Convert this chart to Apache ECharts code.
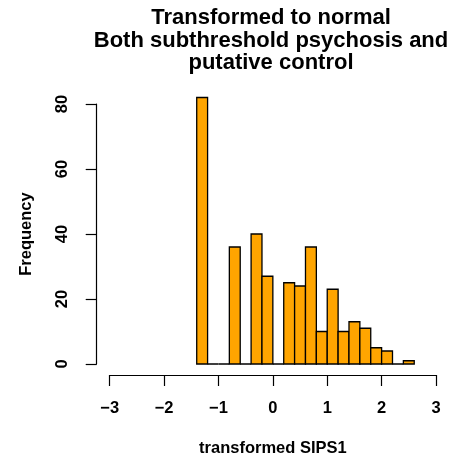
<!DOCTYPE html>
<html>
<head>
<meta charset="utf-8">
<script src="https://cdn.jsdelivr.net/npm/echarts@6/dist/echarts.min.js"></script>
<style>html,body{margin:0;padding:0;background:#fff;}#c{width:453px;height:463px;}</style>
</head>
<body>
<div id="c"></div>
<script>
// Histogram data (bin left edges, bin width 0.2)
var binStarts = [-1.4, -1.2, -1.0, -0.8, -0.6, -0.4, -0.2, 0.0, 0.2, 0.4, 0.6, 0.8, 1.0, 1.2, 1.4, 1.6, 1.8, 2.0, 2.2, 2.4];
var counts    = [82, 0, 0, 36, 0, 40, 27, 0, 25, 24, 36, 10, 23, 10, 13, 11, 5, 4, 0, 1];
var binWidth = 0.2;
var xTicks = [-3, -2, -1, 0, 1, 2, 3];
var yTicks = [0, 20, 40, 60, 80];
var titleLines = ['Transformed to normal', 'Both subthreshold psychosis and', 'putative control'];
var xLabel = 'transformed SIPS1';
var yLabel = 'Frequency';

var data = binStarts.map(function (s, i) { return [s, +(s + binWidth).toFixed(2), counts[i]]; });
var FONT = "'Liberation Sans', Arial, Helvetica, sans-serif";

var chart = echarts.init(document.getElementById('c'), null, {renderer: 'canvas'});
chart.setOption({
  animation: false,
  backgroundColor: '#ffffff',
  title: {
    text: titleLines.join('\n'),
    left: 266, top: 2, textAlign: 'center',
    textStyle: {fontFamily: FONT, fontWeight: 'bold', fontSize: 22, lineHeight: 22.5, color: '#000'}
  },
  grid: {left: 109.7, right: 17, top: 104, bottom: 99},
  xAxis: {
    type: 'value', min: xTicks[0], max: xTicks[xTicks.length - 1], interval: 1,
    offset: 11,
    axisLine: {show: true, onZero: false, lineStyle: {color: '#000', width: 1.2}},
    axisTick: {show: true, length: 11, lineStyle: {color: '#000', width: 1.2}},
    axisLabel: {margin: 25, fontFamily: FONT, fontWeight: 'bold', fontSize: 16.5, color: '#000',
      formatter: function (v) { return v < 0 ? '\u2212' + Math.abs(v) : String(v); }},
    splitLine: {show: false},
    name: xLabel, nameLocation: 'middle', nameGap: 65,
    nameTextStyle: {fontFamily: FONT, fontWeight: 'bold', fontSize: 16.5, color: '#000'}
  },
  yAxis: {
    type: 'value', min: yTicks[0], max: yTicks[yTicks.length - 1], interval: 20,
    offset: 13,
    axisLine: {show: true, onZero: false, lineStyle: {color: '#000', width: 1.2}},
    axisTick: {show: true, length: 11, lineStyle: {color: '#000', width: 1.2}},
    axisLabel: {margin: 26, rotate: 90, fontFamily: FONT, fontWeight: 'bold', fontSize: 16.5, color: '#000'},
    splitLine: {show: false},
    name: yLabel, nameLocation: 'middle', nameGap: 62,
    nameTextStyle: {fontFamily: FONT, fontWeight: 'bold', fontSize: 16.5, color: '#000'}
  },
  series: [{
    type: 'custom',
    clip: false,
    data: data,
    encode: {x: [0, 1], y: 2},
    renderItem: function (params, api) {
      var p0 = api.coord([api.value(0), api.value(2)]);
      var p1 = api.coord([api.value(1), 0]);
      return {
        type: 'rect',
        shape: {x: p0[0], y: p0[1], width: p1[0] - p0[0], height: p1[1] - p0[1]},
        style: {fill: '#FFA500', stroke: '#000', lineWidth: 1.3}
      };
    }
  }]
});
</script>
</body>
</html>
